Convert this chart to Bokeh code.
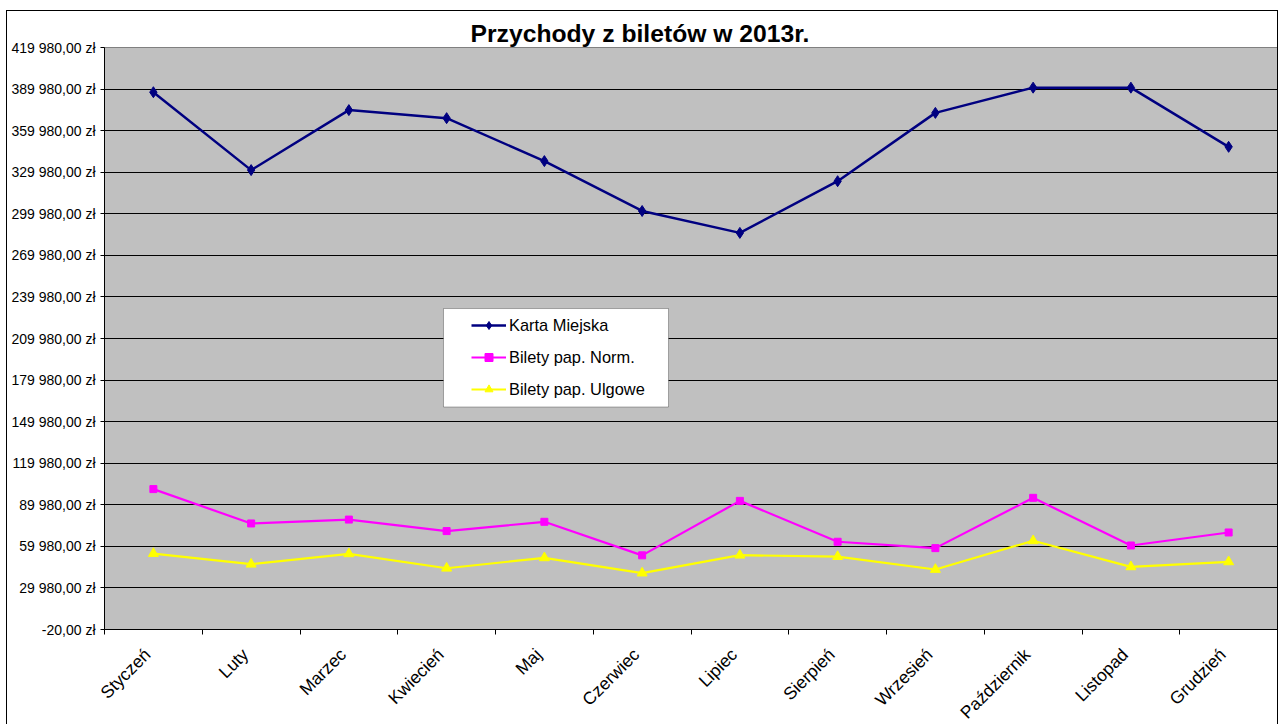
import math
from bokeh.plotting import figure
from bokeh.models import Range1d, FixedTicker, Legend, LegendItem, BoxAnnotation, Title
from bokeh.embed import file_html
from bokeh.resources import INLINE

# ---------------- data ----------------
months = ["Styczeń", "Luty", "Marzec", "Kwiecień", "Maj", "Czerwiec",
          "Lipiec", "Sierpień", "Wrzesień", "Październik", "Listopad", "Grudzień"]
karta_miejska = [387700, 331500, 374800, 369000, 338000, 302000,
                 286200, 323500, 372800, 391000, 391000, 348300]
bilety_norm = [101300, 76500, 79300, 71000, 77700, 53500,
               92800, 63300, 58700, 95000, 60600, 70000]
bilety_ulgowe = [54800, 47100, 54600, 44200, 51700, 40700,
                 53600, 52600, 43300, 64000, 45200, 48800]
series_names = ["Karta Miejska", "Bilety pap. Norm.", "Bilety pap. Ulgowe"]
y_tick_values = [-20, 29980, 59980, 89980, 119980, 149980, 179980, 209980,
                 239980, 269980, 299980, 329980, 359980, 389980, 419980]
y_tick_labels = ["-20,00 zł", "29 980,00 zł", "59 980,00 zł", "89 980,00 zł",
                 "119 980,00 zł", "149 980,00 zł", "179 980,00 zł", "209 980,00 zł",
                 "239 980,00 zł", "269 980,00 zł", "299 980,00 zł", "329 980,00 zł",
                 "359 980,00 zł", "389 980,00 zł", "419 980,00 zł"]
title_text = "Przychody z biletów w 2013r."

FONT = "Liberation Sans"
LABEL_SHIFT = -0.06   # small leftward nudge of the rotated month labels

x = [i + 0.5 for i in range(len(months))]
label_pos = [xi + LABEL_SHIFT for xi in x]
boundaries = list(range(len(months) + 1))

p = figure(frame_width=1173, frame_height=582,
           x_range=Range1d(0, len(months)),
           y_range=Range1d(y_tick_values[0], y_tick_values[-1]),
           output_backend="svg", toolbar_location=None,
           min_border_left=97, min_border_right=0,
           min_border_top=36, min_border_bottom=95)

p.title = Title(text=title_text, align="left", offset=366,
                text_font_size="24.7px", text_font_style="bold",
                text_font=FONT, text_color="black",
                standoff=2, vertical_align="bottom")

p.background_fill_color = "#C0C0C0"
p.border_fill_color = "white"
p.outline_line_color = "#808080"
p.outline_line_width = 1

# x axis
xa = p.xaxis[0]
xa.ticker = FixedTicker(ticks=label_pos, minor_ticks=boundaries)
xa.major_label_overrides = {lp: m for lp, m in zip(label_pos, months)}
xa.major_tick_out = 0
xa.major_tick_in = 0
xa.minor_tick_out = 5
xa.minor_tick_in = 0
xa.minor_tick_line_color = "black"
xa.axis_line_color = "black"
xa.major_label_orientation = math.pi / 4
xa.major_label_text_font = FONT
xa.major_label_text_font_size = "17.5px"
xa.major_label_text_color = "black"
xa.major_label_standoff = 17
p.xgrid.visible = False

# y axis
ya = p.yaxis[0]
ya.ticker = FixedTicker(ticks=y_tick_values)
ya.major_label_overrides = {v: s for v, s in zip(y_tick_values, y_tick_labels)}
ya.major_tick_out = 4
ya.major_tick_in = 0
ya.minor_tick_out = 0
ya.minor_tick_in = 0
ya.axis_line_color = "black"
ya.major_tick_line_color = "black"
ya.major_label_text_font = FONT
ya.major_label_text_font_size = "14px"
ya.major_label_text_color = "black"
ya.major_label_standoff = 5
p.ygrid.ticker = FixedTicker(ticks=y_tick_values[1:-1])
p.ygrid.grid_line_color = "black"
p.ygrid.grid_line_width = 1

# series
l1 = p.line(x, karta_miejska, line_color="#000080", line_width=2.5)
s1 = p.scatter(x, karta_miejska, marker="diamond", size=11,
               fill_color="#000080", line_color="#000080")
l2 = p.line(x, bilety_norm, line_color="#FF00FF", line_width=2.2)
s2 = p.scatter(x, bilety_norm, marker="square", size=7,
               fill_color="#FF00FF", line_color="#FF00FF")
l3 = p.line(x, bilety_ulgowe, line_color="#FFFF00", line_width=2.2)
s3 = p.scatter(x, bilety_ulgowe, marker="triangle", size=10,
               fill_color="#FFFF00", line_color="#FFFF00")

# legend box
box = BoxAnnotation(left=3.468, right=5.77, top=231600, bottom=160550,
                    fill_color="white", fill_alpha=1.0,
                    line_color="black", line_width=1)
p.add_layout(box)

legend = Legend(items=[LegendItem(label=series_names[0], renderers=[l1, s1]),
                       LegendItem(label=series_names[1], renderers=[l2, s2]),
                       LegendItem(label=series_names[2], renderers=[l3, s3])],
                location=(367, 230), padding=0, margin=0, spacing=12,
                glyph_width=35, glyph_height=20, label_height=20,
                label_standoff=3, label_text_font=FONT,
                label_text_font_size="16.4px", label_text_color="black",
                border_line_alpha=0, background_fill_alpha=0)
p.add_layout(legend)

p.styles = {"margin-left": "6px", "margin-top": "10px",
            "border-left": "1px solid black", "border-top": "1px solid black",
            "border-right": "1px solid black"}

open("out.html", "w", encoding="utf-8").write(file_html(p, INLINE))
